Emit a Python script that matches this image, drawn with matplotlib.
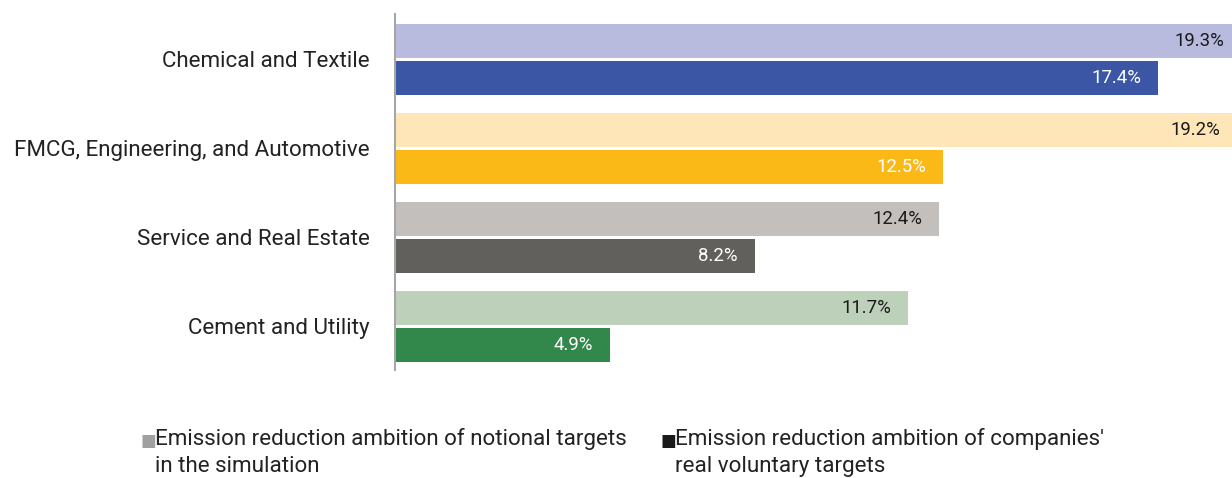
import numpy as np
import matplotlib
matplotlib.use("Agg")
from matplotlib import pyplot as plt

categories = ["Chemical and Textile", "FMCG, Engineering, and Automotive",
              "Service and Real Estate", "Cement and Utility"]
notional = [19.3, 19.2, 12.4, 11.7]
real = [17.4, 12.5, 8.2, 4.9]

notional_colors = ["#B8BBDE", "#FFE6B8", "#C2BFBC", "#BDD0BA"]
real_colors = ["#3A56A5", "#FBB917", "#61605C", "#32874B"]
notional_text = ["#1a1a1a", "#1a1a1a", "#1a1a1a", "#1a1a1a"]
real_text = ["white", "white", "white", "white"]

legend_labels = ["Emission reduction ambition of notional targets\nin the simulation",
                 "Emission reduction ambition of companies'\nreal voluntary targets"]
legend_colors = ["#A0A0A0", "#1a1a1a"]

plt.rcParams["font.family"] = ["Roboto", "DejaVu Sans"]

fig = plt.figure(figsize=(12.32, 4.78), dpi=100)
ax = fig.add_axes([395 / 1232, 1 - 370 / 478, 1 - 395 / 1232, 356 / 478])

y = np.arange(len(categories))
h = 0.38
off = 0.208
ax.barh(y - off, notional, height=h, color=notional_colors)
ax.barh(y + off, real, height=h, color=real_colors)

ax.set_xlim(0, 19.09)
ax.set_ylim(3.489, -0.511)

for i in range(len(categories)):
    ax.annotate(f"{notional[i]}%", (notional[i], y[i] - off), xytext=(-12, 0),
                textcoords="offset points", ha="right", va="center",
                fontsize=13.4, color=notional_text[i], annotation_clip=False)
    ax.annotate(f"{real[i]}%", (real[i], y[i] + off), xytext=(-12, 0),
                textcoords="offset points", ha="right", va="center",
                fontsize=13.4, color=real_text[i], annotation_clip=False)

ax.set_yticks(y)
ax.set_yticklabels(categories, fontsize=16.1, color="#222222")
ax.tick_params(axis="y", length=0, pad=18)
ax.set_xticks([])
for s in ["top", "right", "bottom"]:
    ax.spines[s].set_visible(False)
ax.spines["left"].set_color("#A6A6A6")
ax.spines["left"].set_linewidth(1.5)

xs = [141 / 1232, 661 / 1232]
for i in range(2):
    fig.text(xs[i], 1 - 441 / 478, "■", fontsize=12, color=legend_colors[i],
             va="center", ha="left", family="DejaVu Sans")
    fig.text(xs[i] + 14 / 1232, 1 - 441 / 478 + 0.028, legend_labels[i], fontsize=16.1,
             color="#222222", va="top", ha="left", linespacing=1.42)

plt.savefig("out.png", dpi=100)
